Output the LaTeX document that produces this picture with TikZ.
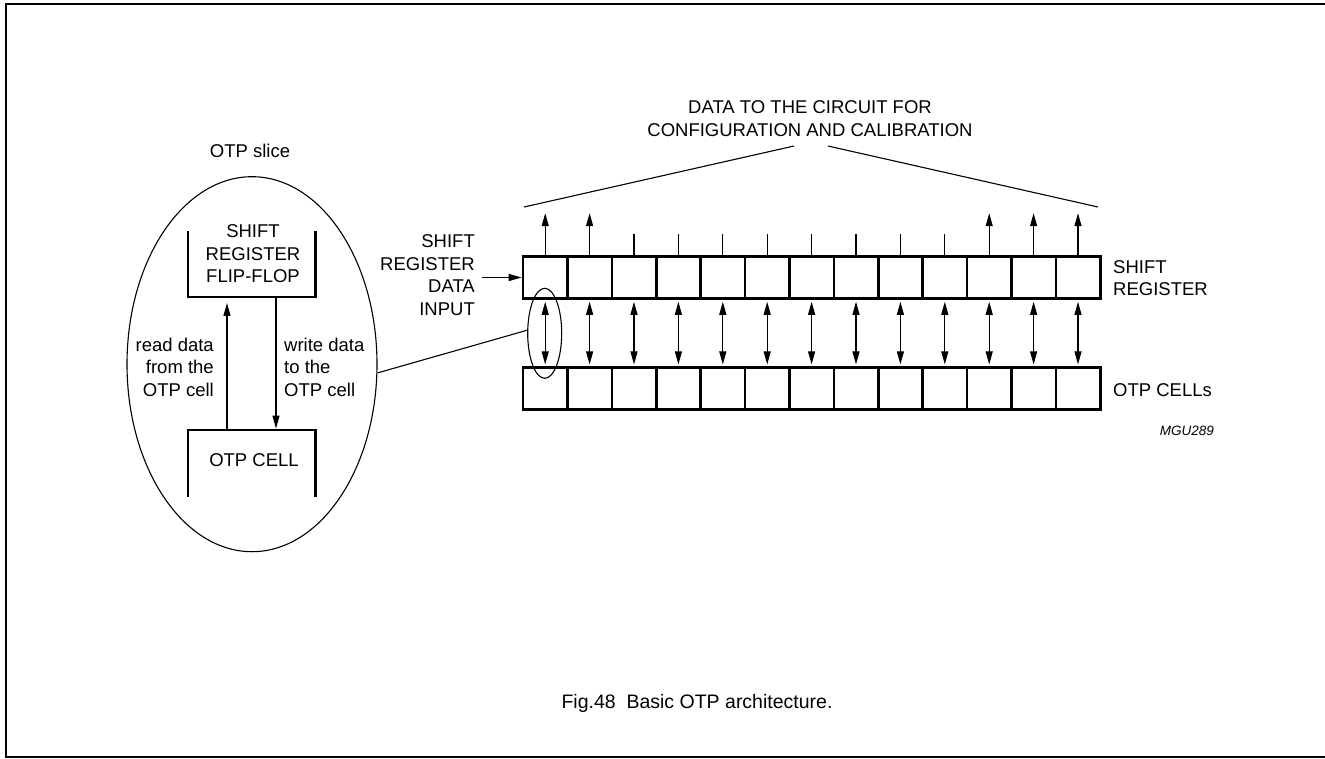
\documentclass[tikz,border=0pt]{standalone}
\usepackage{fontspec}
\setmainfont{Liberation Sans}
\usetikzlibrary{arrows.meta,shapes.geometric}
\begin{document}
\begin{tikzpicture}[x=1pt,y=-1pt]
		\tikzstyle{every node}+=[inner sep=0pt]
		\tikzstyle{lbl}=[font=\fontsize{18.5}{22.5}\selectfont]
		\tikzstyle{cell}=[draw,black,line width=2.6pt,minimum width=44.4pt,minimum height=42pt]
		\tikzstyle{arr}=[black,line width=1.1pt,-{Triangle[length=13pt,width=7pt]}]
		\tikzstyle{darr}=[black,line width=1.1pt,{Triangle[length=13pt,width=7pt]}-{Triangle[length=13pt,width=7pt]},shorten <=2pt,shorten >=2pt]
		\tikzstyle{tick}=[black,line width=1.1pt]
		\tikzstyle{bracket}=[black,line width=2.6pt]
		\useasboundingbox (0,0) rectangle (1325,758);
		\draw [black,line width=2pt] (1327,4) -- (6,4) -- (6,756.5) -- (1327,756.5);
		% OTP slice
		\node [lbl] (slicelbl) at (250,151) {OTP slice};
		\node [draw,black,ellipse,line width=1.1pt,minimum width=250pt,minimum height=375pt] (slice) at (252,364.2) {};
		\node (ff) at (251.5,263.85) [minimum width=127pt,minimum height=65.7pt] {};
		\draw [bracket] (ff.north west) -- (ff.south west) -- (ff.south east) -- (ff.north east);
		\node [lbl,align=center] (fflbl) at (253,254) {SHIFT\\REGISTER\\FLIP-FLOP};
		\node (oc) at (251.5,463.35) [minimum width=127pt,minimum height=66.7pt] {};
		\draw [bracket] (oc.south west) -- (oc.north west) -- (oc.north east) -- (oc.south east);
		\node [lbl] (oclbl) at (254,460) {OTP CELL};
		\draw [arr,shorten <=1.3pt,shorten >=6pt] ([xshift=-24.5pt]oc.north) -- ([xshift=-24.5pt]ff.south);
		\draw [arr,shorten <=1.3pt,shorten >=1.3pt] ([xshift=24.5pt]ff.south) -- ([xshift=24.5pt]oc.north);
		\node [lbl,align=right,anchor=east] (readlbl) at (214,367) {read data\\from the\\OTP cell};
		\node [lbl,align=left,anchor=west] (writelbl) at (284,367) {write data\\to the\\OTP cell};
		% shift register
		\node [cell] (s1) at (545.2,277.5) {};
		\node [cell] (s2) at (589.6,277.5) {};
		\node [cell] (s3) at (634.0,277.5) {};
		\node [cell] (s4) at (678.4,277.5) {};
		\node [cell] (s5) at (722.8,277.5) {};
		\node [cell] (s6) at (767.2,277.5) {};
		\node [cell] (s7) at (811.6,277.5) {};
		\node [cell] (s8) at (856.0,277.5) {};
		\node [cell] (s9) at (900.4,277.5) {};
		\node [cell] (s10) at (944.8,277.5) {};
		\node [cell] (s11) at (989.2,277.5) {};
		\node [cell] (s12) at (1033.6,277.5) {};
		\node [cell] (s13) at (1078.0,277.5) {};
		% OTP cells
		\node [cell] (o1) at (545.2,388.7) {};
		\node [cell] (o2) at (589.6,388.7) {};
		\node [cell] (o3) at (634.0,388.7) {};
		\node [cell] (o4) at (678.4,388.7) {};
		\node [cell] (o5) at (722.8,388.7) {};
		\node [cell] (o6) at (767.2,388.7) {};
		\node [cell] (o7) at (811.6,388.7) {};
		\node [cell] (o8) at (856.0,388.7) {};
		\node [cell] (o9) at (900.4,388.7) {};
		\node [cell] (o10) at (944.8,388.7) {};
		\node [cell] (o11) at (989.2,388.7) {};
		\node [cell] (o12) at (1033.6,388.7) {};
		\node [cell] (o13) at (1078.0,388.7) {};
		% read/write between the rows
		\draw [darr] (s1.south) -- (o1.north);
		\draw [darr] (s2.south) -- (o2.north);
		\draw [darr] (s3.south) -- (o3.north);
		\draw [darr] (s4.south) -- (o4.north);
		\draw [darr] (s5.south) -- (o5.north);
		\draw [darr] (s6.south) -- (o6.north);
		\draw [darr] (s7.south) -- (o7.north);
		\draw [darr] (s8.south) -- (o8.north);
		\draw [darr] (s9.south) -- (o9.north);
		\draw [darr] (s10.south) -- (o10.north);
		\draw [darr] (s11.south) -- (o11.north);
		\draw [darr] (s12.south) -- (o12.north);
		\draw [darr] (s13.south) -- (o13.north);
		% outputs
		\draw [arr] (s1.north) -- ++(0,-42);
		\draw [arr] (s2.north) -- ++(0,-42);
		\draw [tick] (s3.north) -- ++(0,-21);
		\draw [tick] (s4.north) -- ++(0,-21);
		\draw [tick] (s5.north) -- ++(0,-21);
		\draw [tick] (s6.north) -- ++(0,-21);
		\draw [tick] (s7.north) -- ++(0,-21);
		\draw [tick] (s8.north) -- ++(0,-21);
		\draw [tick] (s9.north) -- ++(0,-21);
		\draw [tick] (s10.north) -- ++(0,-21);
		\draw [arr] (s11.north) -- ++(0,-42);
		\draw [arr] (s12.north) -- ++(0,-42);
		\draw [arr] (s13.north) -- ++(0,-42);
		\node [lbl,align=center] (datalbl) at (810,118.5) {DATA TO THE CIRCUIT FOR\\CONFIGURATION AND CALIBRATION};
		\coordinate (vtl) at (794,146);
		\coordinate (vbl) at (524,207);
		\coordinate (vtr) at (828,146);
		\coordinate (vbr) at (1098,207);
		\draw [tick] (vtl) -- (vbl);
		\draw [tick] (vtr) -- (vbr);
		% input and labels
		\node [lbl,align=right,anchor=east] (inlbl) at (475,275) {SHIFT\\REGISTER\\DATA\\INPUT};
		\coordinate (infrom) at (482,277.5);
		\draw [arr] (infrom) -- (s1.west);
		\node [lbl,align=left,anchor=west] (srlbl) at (1113,278.3) {SHIFT\\REGISTER};
		\node [lbl,anchor=west] (otplbl) at (1113,390) {OTP CELLs};
		\node [font=\fontsize{13.5}{16}\selectfont\itshape,anchor=east] (mgu) at (1214,431) {MGU289};
		% zoom onto one slice
		\node [draw,black,ellipse,line width=1.1pt,minimum width=34pt,minimum height=90pt] (selc) at (544.7,333.3) {};
		\draw [tick] (slice.356) -- (selc.170);
		\node [font=\fontsize{19.5}{23}\selectfont] (caption) at (697,703) {Fig.48\ \ Basic OTP architecture.};
	\end{tikzpicture}
\end{document}
